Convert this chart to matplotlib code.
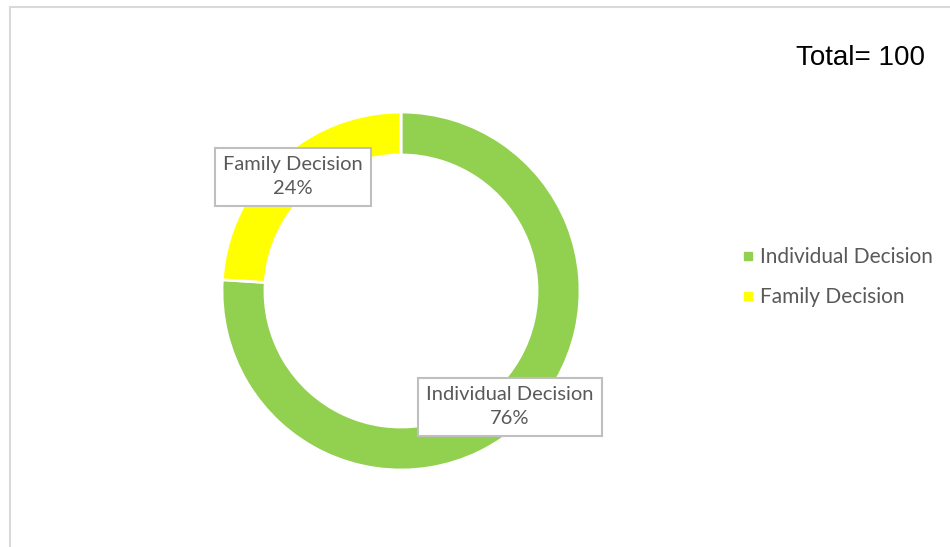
import matplotlib.pyplot as plt
from matplotlib.lines import Line2D
from matplotlib.patches import Rectangle

# data
labels = ["Individual Decision", "Family Decision"]
shares = [76, 24]
colors = ["#92d050", "#ffff00"]
total_text = "Total= 100"

W, H = 950, 547
fig = plt.figure(figsize=(W / 100, H / 100), dpi=100, facecolor="white")

# light chart-area border (left and top edges)
border = Rectangle((9.5 / W, -0.1), 1.2, (H - 6.5) / H + 0.1,
                   transform=fig.transFigure, fill=False,
                   edgecolor="#d9d9d9", linewidth=1.5)
fig.add_artist(border)

# donut centre and radius in pixels
cx, cy, r = 401, 291, 179
half = 200
ax = fig.add_axes([(cx - half) / W, (H - cy - half) / H, 2 * half / W, 2 * half / H])

wedges, _ = ax.pie(shares, colors=colors, startangle=90, counterclock=False,
                   radius=1, wedgeprops=dict(width=0.24, edgecolor="white", linewidth=2))
ax.set_xlim(-half / r, half / r)
ax.set_ylim(-half / r, half / r)
ax.set_aspect("equal")
ax.axis("off")

lab_font = "Lato"
lab_pos = [(0.609, -0.648), (-0.603, 0.637)]
for lab, val, (x, y) in zip(labels, shares, lab_pos):
    ax.text(x, y, f"{lab}\n{val}%", ha="center", va="center", fontsize=14.5,
            family=lab_font, color="#595959", linespacing=1.5,
            bbox=dict(boxstyle="square,pad=0.4", facecolor="white",
                      edgecolor="#bfbfbf", linewidth=1.5))

handles = [Line2D([], [], marker="s", ls="", color=c, markersize=6) for c in colors]
fig.legend(handles, labels, loc="center left", bbox_to_anchor=(723 / W, (H - 277) / H),
           frameon=False, prop=dict(family=lab_font, size=15),
           labelcolor="#595959", handlelength=0.6, handletextpad=0.3,
           labelspacing=0.95)

fig.text(925 / W, (H - 58) / H, total_text, ha="right", va="center",
         fontsize=20, family="Liberation Sans", color="black")

fig.savefig("out.png", dpi=100, facecolor="white")
